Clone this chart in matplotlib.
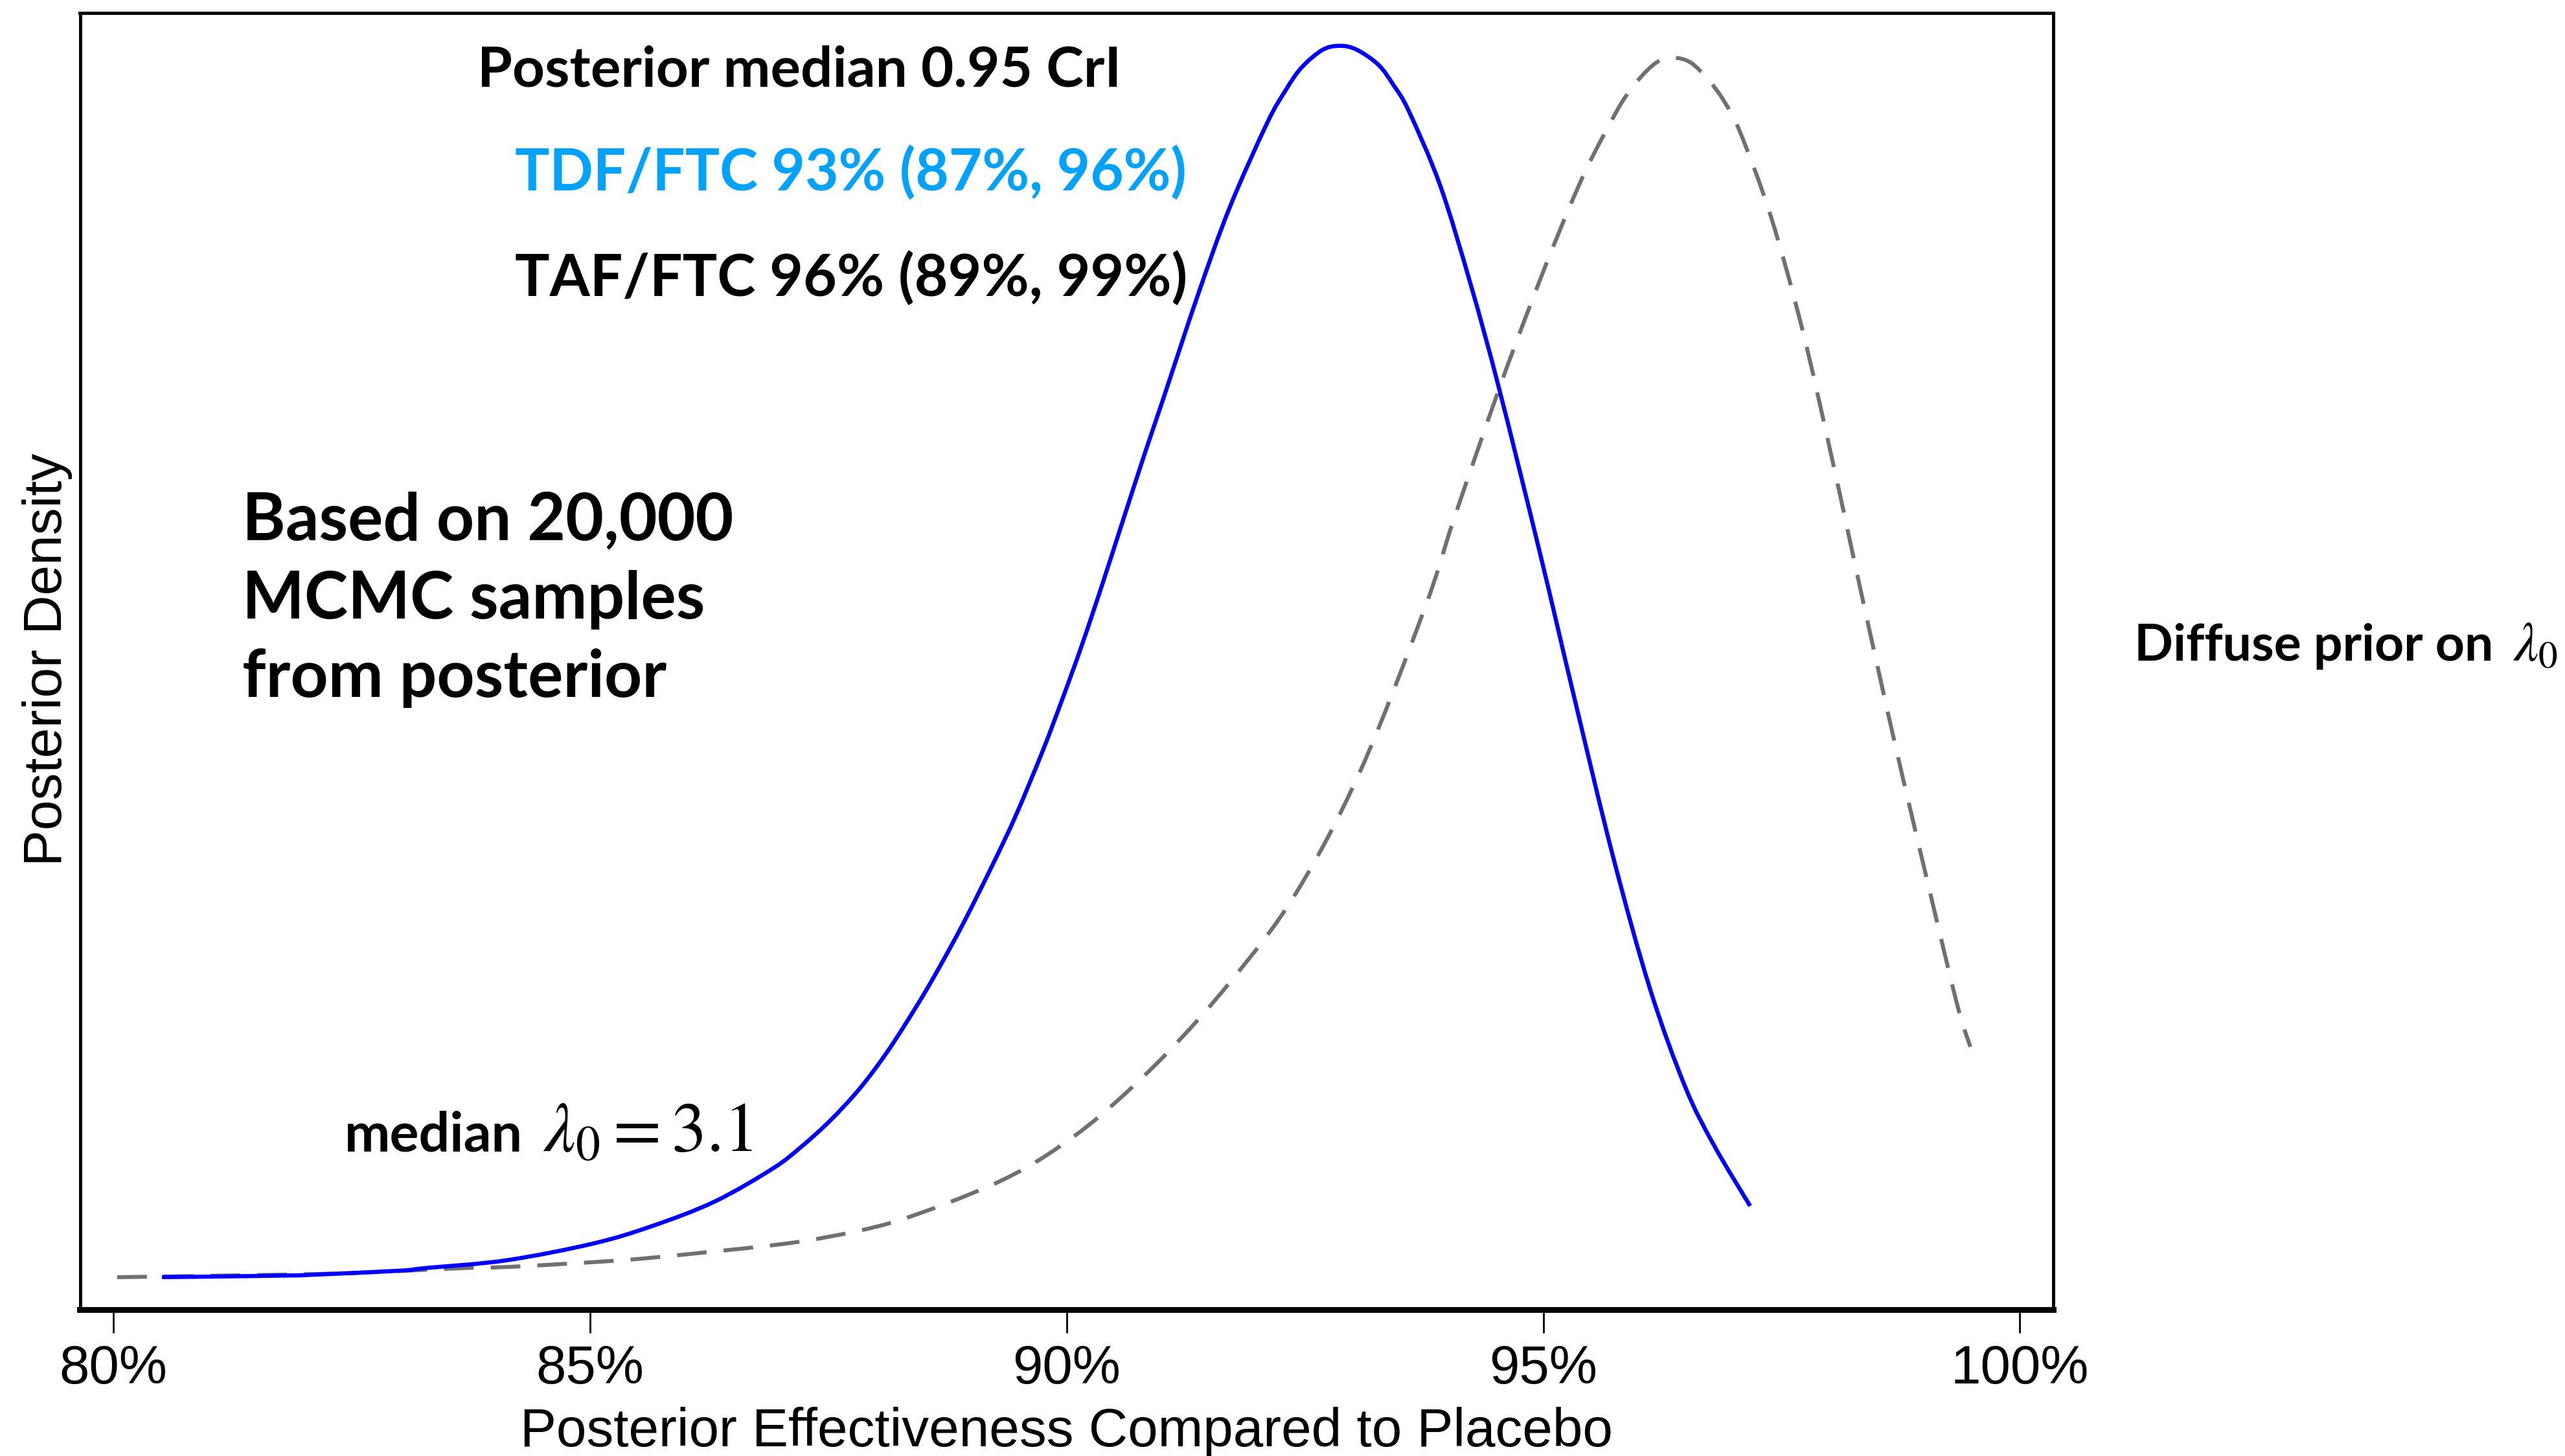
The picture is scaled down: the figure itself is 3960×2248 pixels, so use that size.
import numpy as np
import matplotlib
matplotlib.use("Agg")
import matplotlib.pyplot as plt
from matplotlib.path import Path
from matplotlib.patches import PathPatch

# ---------------- data ----------------
# Posterior effectiveness (%) and relative posterior density, TDF/FTC (blue solid)
tdf_x = [80.51, 80.85, 81.83, 82.06, 83.00, 83.27, 84.12, 85.03, 85.65, 86.31,
         86.92, 87.22, 87.52, 87.83, 88.13, 88.43, 88.64, 88.92, 89.23, 89.47,
         89.75, 89.96, 90.16, 90.37, 90.58, 90.82, 91.00, 91.38, 91.71, 92.10,
         92.29, 92.46, 92.68, 92.86, 93.04, 93.27, 93.43, 93.59, 93.92, 94.24,
         94.54, 94.97, 95.33, 95.73, 96.12, 96.49, 96.79, 97.17]
tdf_y = [0.0251, 0.0253, 0.0263, 0.0268, 0.0300, 0.0320, 0.0380, 0.0509, 0.0644, 0.0834,
         0.1089, 0.1258, 0.1458, 0.1705, 0.2000, 0.2345, 0.2607, 0.2984, 0.3440, 0.3815,
         0.4310, 0.4717, 0.5124, 0.5583, 0.6060, 0.6602, 0.6993, 0.7830, 0.8497, 0.9144,
         0.9393, 0.9573, 0.9711, 0.9744, 0.9715, 0.9598, 0.9440, 0.9240, 0.8664, 0.7900,
         0.7091, 0.5818, 0.4704, 0.3498, 0.2472, 0.1715, 0.1268, 0.0799]

# Diffuse prior curve (grey dashed)
prior_x = [80.04, 81.83, 82.61, 83.66, 84.17, 85.14, 85.70, 86.92, 87.52, 88.13,
           88.74, 89.34, 89.82, 90.36, 91.04, 91.72, 92.40, 93.08, 93.76, 94.06,
           94.52, 94.82, 95.12, 95.44, 95.77, 95.93, 96.09, 96.22, 96.37, 96.55,
           96.74, 96.90, 97.07, 97.39, 97.72, 98.04, 98.36, 98.69, 99.02, 99.34, 99.48]
prior_y = [0.0250, 0.0270, 0.0285, 0.0320, 0.0330, 0.0371, 0.0404, 0.0497, 0.0564, 0.0664,
           0.0819, 0.1004, 0.1205, 0.1500, 0.1968, 0.2530, 0.3204, 0.4152, 0.5415, 0.6090,
           0.7066, 0.7661, 0.8225, 0.8775, 0.9240, 0.9420, 0.9555, 0.9629, 0.9653, 0.9613,
           0.9475, 0.9313, 0.9069, 0.8422, 0.7550, 0.6524, 0.5443, 0.4360, 0.3331, 0.2357, 0.2027]

xticks = [80, 85, 90, 95, 100]
xtick_labels = ["80%", "85%", "90%", "95%", "100%"]

x_label = "Posterior Effectiveness Compared to Placebo"
y_label = "Posterior Density"
header = "Posterior median 0.95 CrI"
tdf_text = "TDF/FTC 93% (87%, 96%)"
taf_text = "TAF/FTC 96% (89%, 99%)"
note_lines = ["Based on 20,000", "MCMC samples", "from posterior"]
median_word = "median"
median_math = r"$\lambda_0 = 3.1$"
prior_word = "Diffuse prior on"
prior_math = r"$\lambda_0$"

# ---------------- figure ----------------
W, H, DPI = 3960, 2248, 200
plt.rcParams["mathtext.fontset"] = "stix"
fig = plt.figure(figsize=(W / DPI, H / DPI), dpi=DPI)
fig.patch.set_facecolor("white")

AX_L, AX_R, AX_T, AX_B = 123.5, 3170.0, 19.5, 2022.0
ax = fig.add_axes([AX_L / W, 1 - AX_B / H, (AX_R - AX_L) / W, (AX_B - AX_T) / H])


def smooth_path(xs, ys):
    """Catmull-Rom curve through the read points, as cubic Bezier segments."""
    p = np.column_stack([xs, ys]).astype(float)
    ext = np.vstack([p[0], p, p[-1]])
    verts = [p[0]]
    codes = [Path.MOVETO]
    for i in range(len(p) - 1):
        p0, p1, p2, p3 = ext[i], ext[i + 1], ext[i + 2], ext[i + 3]
        verts += [p1 + (p2 - p0) / 6.0, p2 - (p3 - p1) / 6.0, p2]
        codes += [Path.CURVE4] * 3
    return Path(verts, codes)


ax.add_patch(PathPatch(smooth_path(prior_x, prior_y), fill=False, edgecolor="#707070",
                       lw=2.2, linestyle=(0, (7.5, 4.3)), zorder=2))
ax.add_patch(PathPatch(smooth_path(tdf_x, tdf_y), fill=False, edgecolor="#0000FF",
                       lw=2.3, capstyle="butt", joinstyle="round", zorder=3))

ax.set_xlim(79.65, 100.35)
ax.set_ylim(0, 1)
ax.set_xticks(xticks, xtick_labels)
ax.set_yticks([])
ax.tick_params(axis="x", length=13, width=1.0, pad=6, labelsize=30, direction="out")
for lab in ax.get_xticklabels():
    lab.set_family("Liberation Sans")

for s in ["left", "top", "right"]:
    ax.spines[s].set_linewidth(1.8)
ax.spines["bottom"].set_linewidth(3.2)

ax.set_xlabel(x_label, family="Liberation Sans", fontsize=31)
ax.xaxis.label.set_va("baseline")
ax.xaxis.set_label_coords(0.5, (AX_B - 2233) / (AX_B - AX_T))

ax.set_ylabel(y_label, family="Liberation Sans", fontsize=31)
ax.yaxis.label.set_va("baseline")
ax.yaxis.set_label_coords((95 - AX_L) / (AX_R - AX_L), (AX_B - 1018) / (AX_B - AX_T))


def ftext(xpx, ypx, s, size, color="black"):
    return fig.text(xpx / W, 1 - ypx / H, s, ha="left", va="baseline",
                    family="Lato", weight="bold", fontsize=size, color=color)


def fit(t, target_px):
    for _ in range(3):
        fig.canvas.draw()
        w = t.get_window_extent().width
        t.set_fontsize(t.get_fontsize() * target_px / w)


t_head = ftext(737, 133, header, 33)
t_tdf = ftext(795, 295, tdf_text, 33, color="#00A2FF")
t_taf = ftext(795, 458, taf_text, 33)
notes = [ftext(374, yb, s, 40) for s, yb in zip(note_lines, [833, 955, 1076])]
t_med = ftext(532, 1778, median_word, 30)
t_med_m = ftext(838, 1778, median_math, 36)
t_pri = ftext(3295, 1020, prior_word, 30)
t_pri_m = ftext(3879, 1020, prior_math, 31)

fit(t_head, 995)
fit(t_tdf, 1037)
fit(t_taf, 1037)
fit(notes[0], 758)
for t in notes[1:]:
    t.set_fontsize(notes[0].get_fontsize())
fit(t_med, 275)
fit(t_med_m, 324)
fit(t_pri, 555)
fit(t_pri_m, 70)

fit(ax.xaxis.label, 1690)
ax.yaxis.label.set_fontsize(ax.xaxis.label.get_fontsize())

fig.savefig("out.png", dpi=DPI, facecolor="white")
